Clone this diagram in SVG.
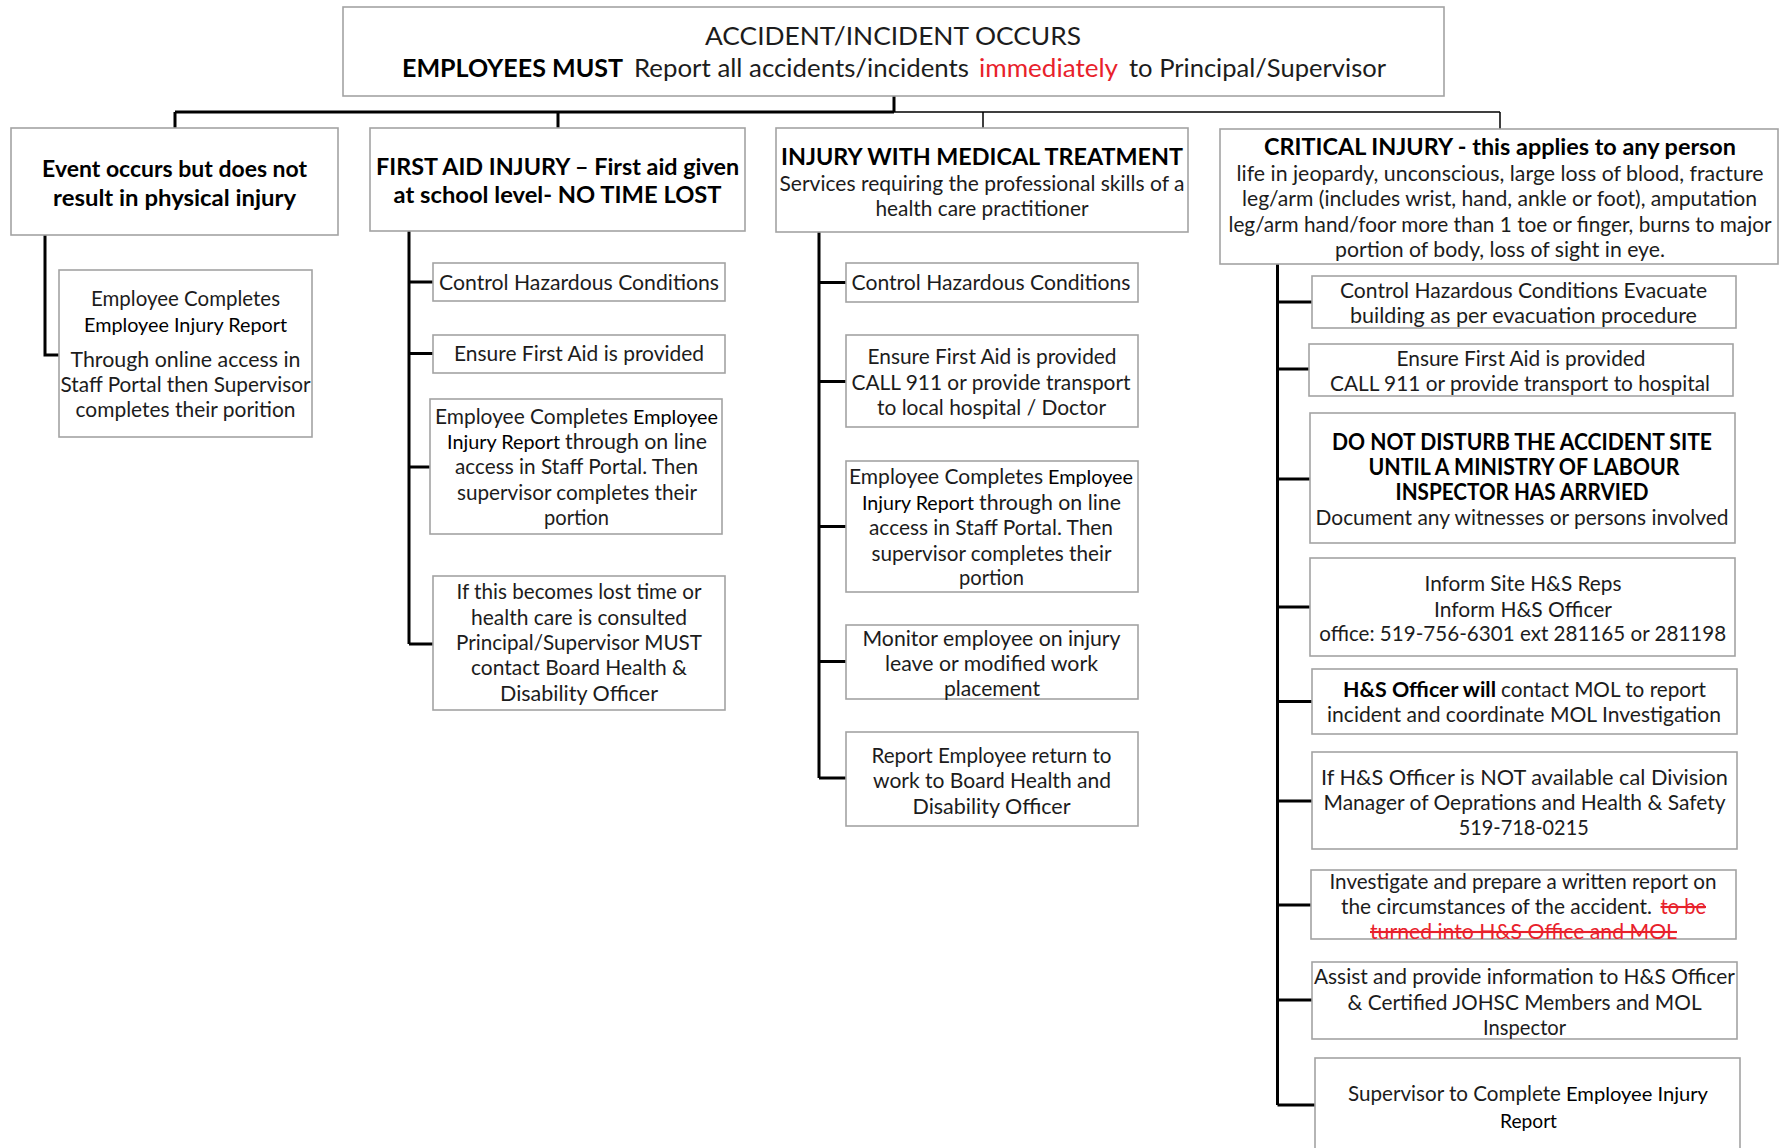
<svg xmlns="http://www.w3.org/2000/svg" width="1781" height="1148" viewBox="0 0 1781 1148">
<style>
.bg{fill:#fff}
.box{fill:#fff;stroke:#a3a3a3;stroke-width:1.6}
.thick{stroke:#000;stroke-width:3;fill:none}
.thin{stroke:#000;stroke-width:1.5;fill:none}
text{font-family:Lato,"Liberation Sans",sans-serif;fill:#1c1c1c;font-size:21px}
.m{text-anchor:middle}
.b{font-weight:bold;fill:#000;font-size:23px}
.c{font-size:19px;fill:#000}
.h{font-size:25px}
.red{fill:#e8212b}
.st{text-decoration:line-through}
</style>
<rect class="bg" x="0" y="0" width="1781" height="1148"/>

<g id="connectors">
  <path class="thick" d="M894 96V112M175 112H894M175 112V128M558 112V128"/>
  <path class="thin" d="M894 112H1500M983 112V129M1500 112V129"/>
  <path class="thick" d="M45 235V355H59"/>
  <path class="thick" d="M409 231V644M409 282H433M409 353.5H433M409 467H430M409 644H433"/>
  <path class="thick" d="M819 232V778M819 282.5H846M819 381.5H846M819 526.5H846M819 661.5H846M819 778H846"/>
  <path class="thick" d="M1277.5 264V1105M1277.5 302H1312M1277.5 369H1309M1277.5 479H1310M1277.5 607H1310M1277.5 701.5H1312M1277.5 801H1312M1277.5 905H1311M1277.5 1000H1312M1277.5 1105H1315"/>
</g>

<g id="top">
  <rect class="box" x="343" y="7" width="1101" height="89"/>
  <text class="m h" x="893" y="45" textLength="376" lengthAdjust="spacingAndGlyphs">ACCIDENT/INCIDENT OCCURS</text>
  <text class="b h" x="402" y="77" textLength="221" lengthAdjust="spacingAndGlyphs">EMPLOYEES MUST</text>
  <text class="h" x="634" y="77" textLength="335" lengthAdjust="spacingAndGlyphs">Report all accidents/incidents</text>
  <text class="h red" x="979" y="77" textLength="139" lengthAdjust="spacingAndGlyphs">immediately</text>
  <text class="h" x="1129" y="77" textLength="257" lengthAdjust="spacingAndGlyphs">to Principal/Supervisor</text>
</g>

<g id="no-injury">
  <rect class="box" x="11" y="128" width="327" height="107"/>
  <text class="m b" x="174.6" y="177" textLength="265" lengthAdjust="spacingAndGlyphs">Event occurs but does not</text>
  <text class="m b" x="174.6" y="206" textLength="243" lengthAdjust="spacingAndGlyphs">result in physical injury</text>
</g>
<g id="no-injury-report">
  <rect class="box" x="59" y="270" width="253" height="167"/>
  <text class="m" x="185.5" y="306" textLength="189" lengthAdjust="spacingAndGlyphs">Employee Completes</text>
  <text class="m c" x="185.5" y="332" textLength="203" lengthAdjust="spacingAndGlyphs">Employee Injury Report</text>
  <text class="m" x="185.5" y="367" textLength="230" lengthAdjust="spacingAndGlyphs">Through online access in</text>
  <text class="m" x="185.5" y="392" textLength="250" lengthAdjust="spacingAndGlyphs">Staff Portal then Supervisor</text>
  <text class="m" x="185.5" y="417" textLength="220" lengthAdjust="spacingAndGlyphs">completes their porition</text>
</g>

<g id="first-aid">
  <rect class="box" x="370" y="128" width="375" height="103"/>
  <text class="m b" x="557.6" y="175" textLength="363" lengthAdjust="spacingAndGlyphs">FIRST AID INJURY – First aid given</text>
  <text class="m b" x="557.6" y="203" textLength="328" lengthAdjust="spacingAndGlyphs">at school level- NO TIME LOST</text>
</g>
<g id="fa-control">
  <rect class="box" x="433" y="263" width="292" height="38"/>
  <text class="m" x="579" y="290" textLength="280" lengthAdjust="spacingAndGlyphs">Control Hazardous Conditions</text>
</g>
<g id="fa-firstaid">
  <rect class="box" x="433" y="335" width="292" height="38"/>
  <text class="m" x="579" y="361" textLength="250" lengthAdjust="spacingAndGlyphs">Ensure First Aid is provided</text>
</g>
<g id="fa-report">
  <rect class="box" x="430" y="399" width="292" height="135"/>
  <text x="435" y="424" textLength="193" lengthAdjust="spacingAndGlyphs">Employee Completes</text>
  <text class="c" x="633" y="424" textLength="85" lengthAdjust="spacingAndGlyphs">Employee</text>
  <text class="c" x="447" y="449" textLength="113" lengthAdjust="spacingAndGlyphs">Injury Report</text>
  <text x="565" y="449" textLength="142" lengthAdjust="spacingAndGlyphs">through on line</text>
  <text class="m" x="576.5" y="474" textLength="243" lengthAdjust="spacingAndGlyphs">access in Staff Portal. Then</text>
  <text class="m" x="577" y="499.5" textLength="240" lengthAdjust="spacingAndGlyphs">supervisor completes their</text>
  <text class="m" x="576.5" y="524.5" textLength="65" lengthAdjust="spacingAndGlyphs">portion</text>
</g>
<g id="fa-losttime">
  <rect class="box" x="433" y="576" width="292" height="134"/>
  <text class="m" x="579" y="599" textLength="245" lengthAdjust="spacingAndGlyphs">If this becomes lost time or</text>
  <text class="m" x="579" y="624.5" textLength="216" lengthAdjust="spacingAndGlyphs">health care is consulted</text>
  <text class="m" x="579" y="650" textLength="246" lengthAdjust="spacingAndGlyphs">Principal/Supervisor MUST</text>
  <text class="m" x="579" y="675" textLength="216" lengthAdjust="spacingAndGlyphs">contact Board Health &amp;</text>
  <text class="m" x="579" y="700.5" textLength="158" lengthAdjust="spacingAndGlyphs">Disability Officer</text>
</g>

<g id="medical">
  <rect class="box" x="776" y="128" width="412" height="104"/>
  <text class="m b" x="982" y="165" textLength="402" lengthAdjust="spacingAndGlyphs">INJURY WITH MEDICAL TREATMENT</text>
  <text class="m" x="982" y="190.5" textLength="405" lengthAdjust="spacingAndGlyphs">Services requiring the professional skills of a</text>
  <text class="m" x="982" y="215.5" textLength="213" lengthAdjust="spacingAndGlyphs">health care practitioner</text>
</g>
<g id="med-control">
  <rect class="box" x="846" y="263" width="292" height="39"/>
  <text class="m" x="991" y="289.5" textLength="279" lengthAdjust="spacingAndGlyphs">Control Hazardous Conditions</text>
</g>
<g id="med-firstaid">
  <rect class="box" x="846" y="335" width="292" height="92"/>
  <text class="m" x="992" y="363.5" textLength="249" lengthAdjust="spacingAndGlyphs">Ensure First Aid is provided</text>
  <text class="m" x="991" y="390" textLength="279" lengthAdjust="spacingAndGlyphs">CALL 911 or provide transport</text>
  <text class="m" x="991.5" y="415" textLength="229" lengthAdjust="spacingAndGlyphs">to local hospital / Doctor</text>
</g>
<g id="med-report">
  <rect class="box" x="846" y="461" width="292" height="131"/>
  <text x="849" y="484" textLength="194" lengthAdjust="spacingAndGlyphs">Employee Completes</text>
  <text class="c" x="1048" y="484" textLength="85" lengthAdjust="spacingAndGlyphs">Employee</text>
  <text class="c" x="862" y="509.5" textLength="112" lengthAdjust="spacingAndGlyphs">Injury Report</text>
  <text x="979" y="509.5" textLength="142" lengthAdjust="spacingAndGlyphs">through on line</text>
  <text class="m" x="991" y="535" textLength="244" lengthAdjust="spacingAndGlyphs">access in Staff Portal. Then</text>
  <text class="m" x="991.5" y="560.5" textLength="240" lengthAdjust="spacingAndGlyphs">supervisor completes their</text>
  <text class="m" x="991.5" y="585" textLength="65" lengthAdjust="spacingAndGlyphs">portion</text>
</g>
<g id="med-monitor">
  <rect class="box" x="846" y="625" width="292" height="74"/>
  <text class="m" x="991.5" y="646" textLength="258" lengthAdjust="spacingAndGlyphs">Monitor employee on injury</text>
  <text class="m" x="991.5" y="670.5" textLength="213" lengthAdjust="spacingAndGlyphs">leave or modified work</text>
  <text class="m" x="992" y="695.5" textLength="96" lengthAdjust="spacingAndGlyphs">placement</text>
</g>
<g id="med-return">
  <rect class="box" x="846" y="732" width="292" height="94"/>
  <text class="m" x="991.5" y="763" textLength="240" lengthAdjust="spacingAndGlyphs">Report Employee return to</text>
  <text class="m" x="992" y="788" textLength="238" lengthAdjust="spacingAndGlyphs">work to Board Health and</text>
  <text class="m" x="991.5" y="813.5" textLength="158" lengthAdjust="spacingAndGlyphs">Disability Officer</text>
</g>

<g id="critical">
  <rect class="box" x="1220" y="129" width="558" height="135"/>
  <text class="m b" x="1500" y="155" textLength="472" lengthAdjust="spacingAndGlyphs">CRITICAL INJURY - this applies to any person</text>
  <text class="m" x="1500" y="181" textLength="527" lengthAdjust="spacingAndGlyphs">life in jeopardy, unconscious, large loss of blood, fracture</text>
  <text class="m" x="1499.5" y="206" textLength="515" lengthAdjust="spacingAndGlyphs">leg/arm (includes wrist, hand, ankle or foot), amputation</text>
  <text class="m" x="1500" y="231.5" textLength="543" lengthAdjust="spacingAndGlyphs">leg/arm hand/foor more than 1 toe or finger, burns to major</text>
  <text class="m" x="1500" y="256.5" textLength="330" lengthAdjust="spacingAndGlyphs">portion of body, loss of sight in eye.</text>
</g>
<g id="crit-control">
  <rect class="box" x="1312" y="276" width="424" height="52"/>
  <text class="m" x="1523.5" y="298" textLength="367" lengthAdjust="spacingAndGlyphs">Control Hazardous Conditions Evacuate</text>
  <text class="m" x="1523.5" y="323" textLength="347" lengthAdjust="spacingAndGlyphs">building as per evacuation  procedure</text>
</g>
<g id="crit-firstaid">
  <rect class="box" x="1309" y="344" width="424" height="52"/>
  <text class="m" x="1521" y="365.5" textLength="249" lengthAdjust="spacingAndGlyphs">Ensure First Aid is provided</text>
  <text class="m" x="1520" y="390.5" textLength="380" lengthAdjust="spacingAndGlyphs">CALL 911 or provide transport to hospital</text>
</g>
<g id="crit-site">
  <rect class="box" x="1310" y="413" width="425" height="130"/>
  <text class="m b" x="1522" y="450" textLength="380" lengthAdjust="spacingAndGlyphs">DO NOT DISTURB THE ACCIDENT SITE</text>
  <text class="m b" x="1524" y="475" textLength="311" lengthAdjust="spacingAndGlyphs">UNTIL A MINISTRY OF LABOUR</text>
  <text class="m b" x="1522" y="500" textLength="253" lengthAdjust="spacingAndGlyphs">INSPECTOR HAS ARRVIED</text>
  <text class="m" x="1522" y="525" textLength="413" lengthAdjust="spacingAndGlyphs">Document any witnesses or persons involved</text>
</g>
<g id="crit-inform">
  <rect class="box" x="1310" y="558" width="425" height="98"/>
  <text class="m" x="1523" y="591" textLength="197" lengthAdjust="spacingAndGlyphs">Inform Site H&amp;S Reps</text>
  <text class="m" x="1523" y="617" textLength="178" lengthAdjust="spacingAndGlyphs">Inform H&amp;S Officer</text>
  <text class="m" x="1522.7" y="641" textLength="407" lengthAdjust="spacingAndGlyphs">office: 519-756-6301 ext 281165 or 281198</text>
</g>
<g id="crit-mol">
  <rect class="box" x="1312" y="669" width="425" height="65"/>
  <text class="b" x="1343" y="697" style="font-size:21px" textLength="153" lengthAdjust="spacingAndGlyphs">H&amp;S Officer will</text>
  <text x="1501" y="697" textLength="205" lengthAdjust="spacingAndGlyphs">contact MOL to report</text>
  <text class="m" x="1524" y="722" textLength="394" lengthAdjust="spacingAndGlyphs">incident and coordinate MOL Investigation</text>
</g>
<g id="crit-division">
  <rect class="box" x="1312" y="752" width="425" height="97"/>
  <text class="m" x="1524.4" y="785" textLength="407" lengthAdjust="spacingAndGlyphs">If H&amp;S Officer is NOT available cal Division</text>
  <text class="m" x="1524.5" y="810" textLength="402" lengthAdjust="spacingAndGlyphs">Manager of Oeprations and Health &amp; Safety</text>
  <text class="m" x="1523.7" y="835" textLength="130" lengthAdjust="spacingAndGlyphs">519-718-0215</text>
</g>
<g id="crit-investigate">
  <rect class="box" x="1311" y="870" width="425" height="69"/>
  <text class="m" x="1523" y="889" textLength="387" lengthAdjust="spacingAndGlyphs">Investigate and prepare a written report on</text>
  <text x="1341" y="914" textLength="311" lengthAdjust="spacingAndGlyphs">the circumstances of the accident.</text>
  <text class="red st" x="1660.5" y="914" textLength="45.5" lengthAdjust="spacingAndGlyphs">to be</text>
  <text class="m red st" x="1523.5" y="939" textLength="307" lengthAdjust="spacingAndGlyphs">turned into H&amp;S Office and MOL</text>
</g>
<g id="crit-assist">
  <rect class="box" x="1312" y="962" width="425" height="77"/>
  <text class="m" x="1524.4" y="984" textLength="421" lengthAdjust="spacingAndGlyphs">Assist and provide information to H&amp;S Officer</text>
  <text class="m" x="1524.6" y="1010" textLength="354" lengthAdjust="spacingAndGlyphs">&amp; Certified JOHSC Members and MOL</text>
  <text class="m" x="1524.6" y="1034.5" textLength="83" lengthAdjust="spacingAndGlyphs">Inspector</text>
</g>
<g id="crit-supervisor">
  <rect class="box" x="1315" y="1058" width="425" height="110"/>
  <text x="1348" y="1101" textLength="213" lengthAdjust="spacingAndGlyphs">Supervisor to Complete</text>
  <text class="c" x="1566" y="1101" textLength="142" lengthAdjust="spacingAndGlyphs">Employee Injury</text>
  <text class="m c" x="1528.5" y="1128" textLength="57" lengthAdjust="spacingAndGlyphs">Report</text>
</g>
</svg>
